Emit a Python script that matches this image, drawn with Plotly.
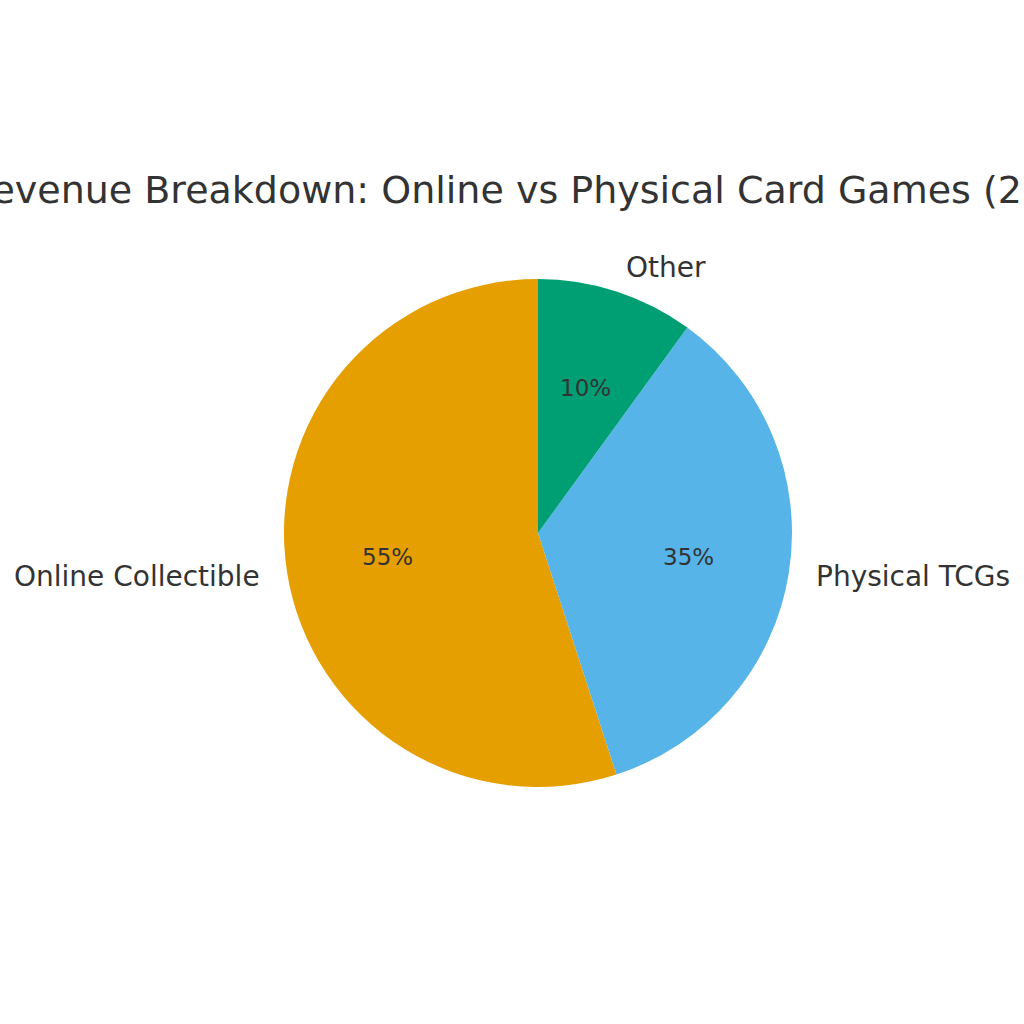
import math
import plotly.graph_objects as go

labels = ['Online Collectible', 'Physical TCGs', 'Other']
values = [55, 35, 10]
colors = ['#E69F00', '#56B4E9', '#009E73']
title = 'Revenue Breakdown: Online vs Physical Card Games (2024)'

W = H = 1024
# pie geometry in pixels (center, radius)
cx, cy, r = 538, 491, 254
font = 'DejaVu Sans'
text_color = '#333333'
total = sum(values)

# plotly's counterclockwise mode puts the first slice clockwise of the start angle,
# so shift back by its span to start at 12 o'clock like matplotlib (startangle=90)
fig = go.Figure(go.Pie(
    labels=labels,
    values=values,
    marker=dict(colors=colors, line=dict(width=0)),
    sort=False,
    direction='counterclockwise',
    rotation=-360.0 * values[0] / total,
    textinfo='none',
    hoverinfo='skip',
    showlegend=False,
    domain=dict(x=[(cx - r) / W, (cx + r) / W], y=[(cy - r) / H, (cy + r) / H]),
))

# labels outside (1.1r) and percentages inside (0.6r), like matplotlib's pie
start = 90.0
for lab, v in zip(labels, values):
    span = 360.0 * v / total
    mid = math.radians(start + span / 2)
    start += span
    c, s = math.cos(mid), math.sin(mid)
    fig.add_annotation(
        x=(cx + 1.1 * r * c) / W, y=(cy + 1.1 * r * s) / H,
        xref='paper', yref='paper', text=lab, showarrow=False,
        xanchor='left' if c > 0 else 'right', yanchor='middle',
        font=dict(family=font, size=28, color=text_color),
    )
    fig.add_annotation(
        x=(cx + 0.6 * r * c) / W, y=(cy + 0.6 * r * s) / H,
        xref='paper', yref='paper', text=f'{v / total * 100:.0f}%', showarrow=False,
        xanchor='center', yanchor='middle',
        font=dict(family=font, size=23, color=text_color),
    )

fig.update_layout(
    width=W, height=H,
    margin=dict(l=0, r=0, t=0, b=0),
    paper_bgcolor='white',
    plot_bgcolor='white',
    title=dict(
        text=title, x=cx / W, xanchor='center', y=1 - 190 / H, yanchor='middle',
        font=dict(family=font, size=38, color=text_color),
    ),
)

fig.write_html("out.html", config={'displayModeBar': False},
               post_script="document.body.style.margin = '0';")
